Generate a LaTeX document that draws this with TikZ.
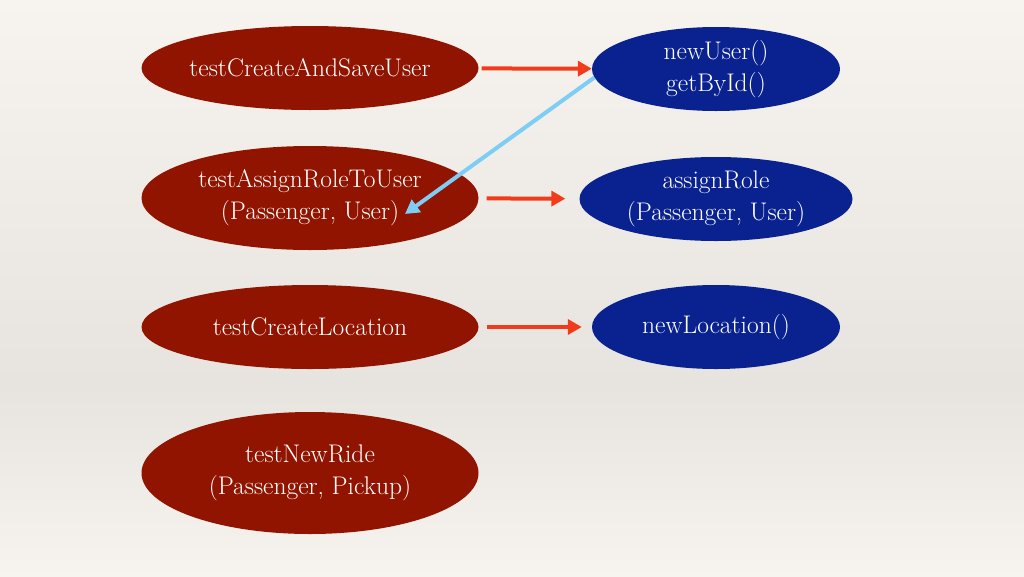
\documentclass[tikz,border=0pt]{standalone}
\usetikzlibrary{shapes.geometric,arrows.meta}

\definecolor{testred}{HTML}{901400}
\definecolor{apiblue}{HTML}{0A2290}
\definecolor{linkred}{HTML}{F23B1A}
\definecolor{linkblue}{HTML}{7DCDF5}
\definecolor{paper}{HTML}{F7F4EF}
\definecolor{paperdark}{HTML}{E7E4DF}

\newcommand{\lw}{4pt}   % connector width
\newcommand{\tip}{Triangle[length=14pt,width=15pt]}

\tikzset{
  testnode/.style={ellipse,fill=testred,text=white,inner xsep=-30pt,inner ysep=0pt,
    minimum width=337pt,minimum height=84pt,align=center,
    font=\fontsize{25.5}{32}\selectfont},
  apinode/.style={testnode,fill=apiblue,minimum width=248pt},
  call/.style={draw=linkred,line width=\lw,-{\tip}},
  back/.style={draw=linkblue,line width=\lw,-{\tip}}
}

\begin{document}
\begin{tikzpicture}[x=1pt,y=-1pt]
  % paper
  \useasboundingbox (0,0) rectangle (1024,576);
  \shade[top color=paper,bottom color=paperdark] (0,0) rectangle (1024,385);
  \shade[top color=paperdark,bottom color=paper] (0,385) rectangle (1024,576);

  \node[testnode] (saveuser) at (310,68) {testCreateAndSaveUser};
  \node[apinode] (newuser) at (716,69) {newUser()\\getById()};
  \node[testnode,minimum height=104pt] (assigntest) at (310,198) {testAssignRoleToUser\\(Passenger, User)};
  \node[apinode,minimum width=273pt] (assignrole) at (716,199) {assignRole\\(Passenger, User)};
  \node[testnode] (loctest) at (310,327) {testCreateLocation};
  \node[apinode] (newloc) at (716,327) {newLocation()};
  \node[testnode,minimum height=122pt] (ridetest) at (310,473) {testNewRide\\(Passenger, Pickup)};

  \draw[call,shorten <=3pt] (saveuser) -- (newuser);
  \draw[call,shorten <=8pt,shorten >=14pt] (assigntest) -- (assignrole);
  \draw[call,shorten <=8pt,shorten >=10pt] (loctest) -- (newloc);
  % getById feeds the role test
  \coordinate (backtip) at (405,214);
  \draw[back] (newuser.184) -- (backtip);
\end{tikzpicture}
\end{document}
